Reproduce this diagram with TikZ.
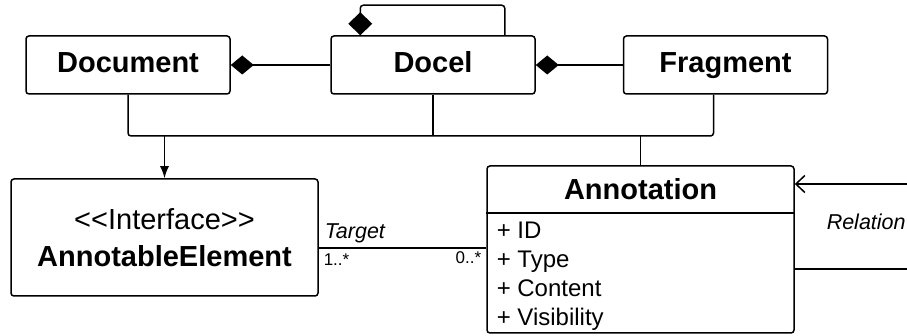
\documentclass[tikz,border=0pt]{standalone}
\usepackage{fontspec}
\setmainfont{Liberation Sans}
\usetikzlibrary{arrows.meta}

\begin{document}
\begin{tikzpicture}[x=1pt,y=-1pt,line width=1.5pt,
  cls/.style={draw,rounded corners=3pt,minimum width=204pt,minimum height=58pt,
    font=\fontsize{29}{34}\selectfont\bfseries},
  title/.style={cls,text height=21pt,text depth=6pt},
  attr/.style={anchor=base west,inner sep=0pt,font=\fontsize{24}{28}\selectfont},
  lbl/.style={anchor=base west,inner sep=0pt,font=\fontsize{21.5}{26}\selectfont\itshape},
  mult/.style={inner sep=0pt,font=\fontsize{17}{20}\selectfont},
  comp/.style={-{Diamond[length=23pt,width=19pt]}}]
\useasboundingbox (0,0) rectangle (907,336);
% top row
\node[title] (doc) at (128,65) {Document};
\node[title] (docel) at (433,65) {Docel};
\node[title] (frag) at (725.5,65) {Fragment};
\draw[comp] (docel.west) -- (doc.east);
\draw[comp] (frag.west) -- (docel.east);
\draw[{Diamond[length=23pt,width=24pt]}-,rounded corners=3pt] ([xshift=30pt]docel.north west) -- ++(0,-30) -| ([xshift=-31pt]docel.north east);
% interface and annotation
\node[cls,minimum width=307pt,minimum height=117pt,align=center,
  font=\fontsize{29}{37}\selectfont] (iface) at (164.5,237.5) {{<}{<}Interface{>}{>}\\\textbf{AnnotableElement}};
\node[cls,minimum width=307pt,minimum height=167pt] (ann) at (640.5,249.5) {};
\node[font=\fontsize{29}{34}\selectfont\bfseries,anchor=base] (anntitle) at (640.5,200) {Annotation};
\draw (ann.west |- 0,213) -- (ann.east |- 0,213);
\foreach \name/\txt/\y in {id/ID/239,type/Type/268,content/Content/297,vis/Visibility/326}
  \node[attr] (attr\name) at (496,\y) {+ \txt};
% bus
\coordinate (bus) at (0,136);
\draw[rounded corners=3pt] (doc.south) |- ([xshift=-12pt]frag.south |- bus) -- ([xshift=-12pt]frag.south);
\draw (docel.south) -- (docel.south |- bus);
\draw[-{Latex[length=12pt,width=9pt]}] (iface.north |- bus) -- (iface.north);
\draw (ann.north |- bus) -- (ann.north);
% target
\draw ([yshift=-10.5pt]iface.east) coordinate (tgtstart) -- (tgtstart -| ann.west) coordinate (tgtend);
\node[lbl] (tgt) at (324,239) {Target};
\node[mult,anchor=base west] (m1) at (323,266) {1..*};
\node[mult,anchor=base east] (m2) at (482,264) {0..*};
% relation
\draw[{Straight Barb[length=9pt,width=17pt]}-] ([yshift=65.5pt]ann.east) -- ++(140,0) |- ([yshift=-19.5pt]ann.east);
\node[lbl] (rel) at (826,230) {Relation};
\end{tikzpicture}
\end{document}
